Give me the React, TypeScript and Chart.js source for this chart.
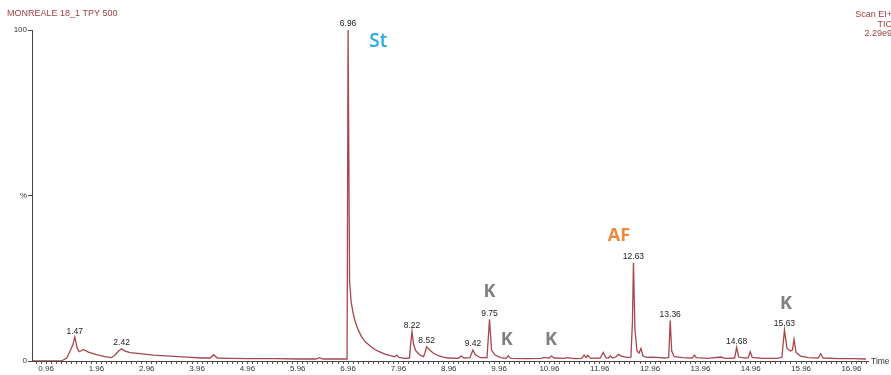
import React, { useEffect, useRef } from "react";
import { Chart, registerables } from "chart.js";

Chart.register(...registerables);

// Retention time (min) and relative abundance (%)
const times: number[] = [
  0.70, 1.25, 1.30, 1.37, 1.43, 1.49, 1.53, 1.58, 1.62, 1.70, 1.80, 1.96, 2.13, 2.26, 2.33, 2.40, 2.46, 2.53, 2.63, 2.83,
  3.09, 3.42, 3.76, 4.05, 4.22, 4.29, 4.36, 4.60, 5.00, 5.50, 6.00, 6.32, 6.39, 6.46, 6.80, 6.94, 6.96, 6.99, 7.02, 7.06,
  7.10, 7.16, 7.23, 7.30, 7.40, 7.50, 7.60, 7.69, 7.80, 7.88, 7.93, 7.97, 8.09, 8.18, 8.20, 8.23, 8.26, 8.30, 8.38, 8.46,
  8.49, 8.52, 8.57, 8.65, 8.75, 8.85, 8.95, 9.15, 9.21, 9.26, 9.38, 9.44, 9.49, 9.59, 9.72, 9.77, 9.81, 9.88, 9.99, 10.10,
  10.14, 10.19, 10.50, 10.80, 10.85, 10.95, 11.00, 11.06, 11.25, 11.32, 11.45, 11.60, 11.65, 11.69, 11.72, 11.78, 11.97, 12.03, 12.08, 12.13,
  12.17, 12.21, 12.28, 12.33, 12.40, 12.50, 12.58, 12.61, 12.63, 12.66, 12.70, 12.74, 12.78, 12.82, 12.90, 13.00, 13.10, 13.25, 13.33, 13.36,
  13.39, 13.44, 13.60, 13.80, 13.84, 13.88, 14.10, 14.37, 14.45, 14.64, 14.68, 14.72, 14.85, 14.91, 14.95, 14.99, 15.20, 15.50, 15.58, 15.63,
  15.68, 15.75, 15.79, 15.82, 15.86, 15.95, 16.10, 16.30, 16.35, 16.40, 16.70, 17.00, 17.25,
];
const abundance: number[] = [
  0, 0, 0.3, 0.9, 2.8, 4.8, 7.2, 3.8, 2.8, 3.5, 2.7, 1.9, 1.3, 1.0, 1.8, 3.0, 3.7, 3.0, 2.5, 2.2,
  1.8, 1.5, 1.2, 0.9, 0.9, 1.9, 0.9, 0.8, 0.7, 0.7, 0.6, 0.6, 1.0, 0.6, 0.6, 0.6, 100, 24, 18, 14.5,
  12, 9.4, 7.3, 5.8, 4.5, 3.4, 2.7, 2.1, 1.6, 1.3, 1.8, 1.1, 0.8, 0.9, 4.5, 8.9, 5.2, 3.2, 1.9, 1.3,
  2.6, 4.3, 3.5, 2.4, 1.6, 1.2, 0.9, 0.8, 1.5, 0.9, 1.0, 3.3, 1.9, 1.0, 1.0, 12.6, 3.3, 1.8, 1.0, 0.8,
  1.6, 0.8, 0.7, 0.8, 1.1, 0.9, 1.5, 0.9, 0.8, 1.0, 0.7, 0.8, 1.8, 1.0, 1.7, 0.8, 0.9, 2.6, 1.0, 0.9,
  1.5, 0.9, 1.2, 2.0, 1.4, 1.1, 1.2, 12, 29.7, 9.4, 3.0, 2.4, 3.8, 1.5, 1.1, 1.2, 1.1, 0.9, 1.1, 12.2,
  3.0, 1.3, 1.0, 0.9, 1.8, 1.0, 0.8, 1.2, 0.8, 0.9, 4.1, 1.2, 0.9, 1.0, 2.8, 1.1, 0.8, 0.8, 1.2, 9.4,
  3.8, 3.0, 3.4, 6.6, 2.6, 1.5, 1.0, 0.9, 2.2, 0.9, 0.7, 0.7, 0.6,
];

// Peak apex labels
const peakTimes: number[] = [1.53, 2.46, 6.96, 8.23, 8.52, 9.44, 9.77, 12.63, 13.36, 14.68, 15.63];
const peakLabels: string[] = ["1.47", "2.42", "6.96", "8.22", "8.52", "9.42", "9.75", "12.63", "13.36", "14.68", "15.63"];

// Compound annotations
const annoTexts: string[] = ["St", "K", "K", "K", "AF", "K"];
const annoTimes: number[] = [7.56, 9.77, 10.11, 10.99, 12.34, 15.66];
const annoLevels: number[] = [96.4, 20.8, 6.3, 6.3, 37.8, 17.2];
const annoColors: string[] = ["#2aa8e0", "#808080", "#808080", "#808080", "#f08a3a", "#808080"];

// Axis ticks
const xMajorLabels: string[] = ["0.96", "1.96", "2.96", "3.96", "4.96", "5.96", "6.96", "7.96", "8.96", "9.96", "10.96", "11.96", "12.96", "13.96", "14.96", "15.96", "16.96"];
const xMinorFirst = 0.76;
const xMinorStep = 0.1;
const xMinorCount = 166;
const xMin = 0.68;
const xMax = 17.29;
const yTickValues: number[] = [0, 50, 100];
const yTickLabels: string[] = ["0", "%", "100"];

const titleText = "MONREALE 18_1 TPY 500";
const infoLines: string[] = ["Scan EI+", "TIC", "2.29e9"];
const axisName = "Time";

const FONT = '"Liberation Sans", Arial, sans-serif';

const overlayPlugin = {
  id: "overlay",
  afterDatasetsDraw(chart: any) {
    const ctx = chart.ctx as CanvasRenderingContext2D;
    const xs = chart.scales.x;
    const ys = chart.scales.y;
    ctx.save();
    // peak labels
    ctx.font = `8.5px ${FONT}`;
    ctx.fillStyle = "#222";
    ctx.textAlign = "center";
    ctx.textBaseline = "middle";
    peakTimes.forEach((t, i) => {
      const idx = times.indexOf(t);
      const v = abundance[idx];
      ctx.fillText(peakLabels[i], xs.getPixelForValue(t), ys.getPixelForValue(v) - 6);
    });
    // annotations
    annoTexts.forEach((txt, i) => {
      ctx.font = txt === "St" ? `600 19px "Open Sans", sans-serif` : `bold 18px "Open Sans", sans-serif`;
      ctx.fillStyle = annoColors[i];
      ctx.fillText(txt, xs.getPixelForValue(annoTimes[i]), ys.getPixelForValue(annoLevels[i]));
    });
    // title
    ctx.font = `9px ${FONT}`;
    ctx.fillStyle = "#9c3e3e";
    ctx.textAlign = "left";
    ctx.fillText(titleText, 7, 14);
    ctx.textAlign = "right";
    infoLines.forEach((l, i) => ctx.fillText(l, 892, 15 + i * 9.5));
    // axis name
    ctx.font = `8.5px ${FONT}`;
    ctx.fillStyle = "#333";
    ctx.textAlign = "left";
    ctx.fillText(axisName, xs.right + 3, xs.top + 1);
    ctx.restore();
  },
};

export default function App() {
  const ref = useRef<HTMLCanvasElement>(null);
  useEffect(() => {
    const minorTicks: number[] = [];
    for (let i = 0; i < xMinorCount; i++) minorTicks.push(Math.round((xMinorFirst + i * xMinorStep) * 100) / 100);
    const chart = new Chart(ref.current!, {
      type: "line",
      data: {
        datasets: [
          {
            data: times.map((t, i) => ({ x: t, y: abundance[i] })),
            borderColor: "#a8464b",
            borderWidth: 1.3,
            pointRadius: 0,
            tension: 0,
            fill: false,
          },
        ],
      },
      options: {
        responsive: false,
        animation: false,
        devicePixelRatio: 1,
        layout: { padding: { top: 30, right: 23, left: 0, bottom: 0 } },
        plugins: { legend: { display: false }, tooltip: { enabled: false }, title: { display: false } },
        scales: {
          x: {
            type: "linear",
            min: xMin,
            max: xMax,
            afterBuildTicks: (axis: any) => {
              axis.ticks = minorTicks.map((v) => ({ value: v }));
            },
            afterFit: (scale: any) => {
              scale.height = 14;
            },
            ticks: {
              autoSkip: false,
              maxRotation: 0,
              minRotation: 0,
              padding: 0,
              color: "#333",
              font: { size: 8, family: FONT },
              callback: (value: any) => {
                const s = Number(value).toFixed(2);
                return xMajorLabels.includes(s) ? s : "";
              },
            },
            grid: { display: true, drawOnChartArea: false, drawTicks: true, tickLength: 3, color: "#555" },
            border: { display: true, color: "#444", width: 1 },
          },
          y: {
            min: 0,
            max: 100,
            afterBuildTicks: (axis: any) => {
              axis.ticks = yTickValues.map((v) => ({ value: v }));
            },
            afterFit: (scale: any) => {
              scale.width = 32;
            },
            ticks: {
              padding: 1,
              color: "#333",
              font: { size: 8, family: FONT },
              callback: (value: any) => yTickLabels[yTickValues.indexOf(Number(value))],
            },
            grid: { display: true, drawOnChartArea: false, drawTicks: true, tickLength: 4, color: "#444" },
            border: { display: true, color: "#444", width: 1 },
          },
        },
      },
      plugins: [overlayPlugin],
    } as any);
    return () => chart.destroy();
  }, []);
  return (
    <div style={{ position: "fixed", left: 0, top: 0, width: 891, height: 375, background: "#fff" }}>
      <canvas ref={ref} width={891} height={375} style={{ display: "block", width: 891, height: 375 }} />
    </div>
  );
}
